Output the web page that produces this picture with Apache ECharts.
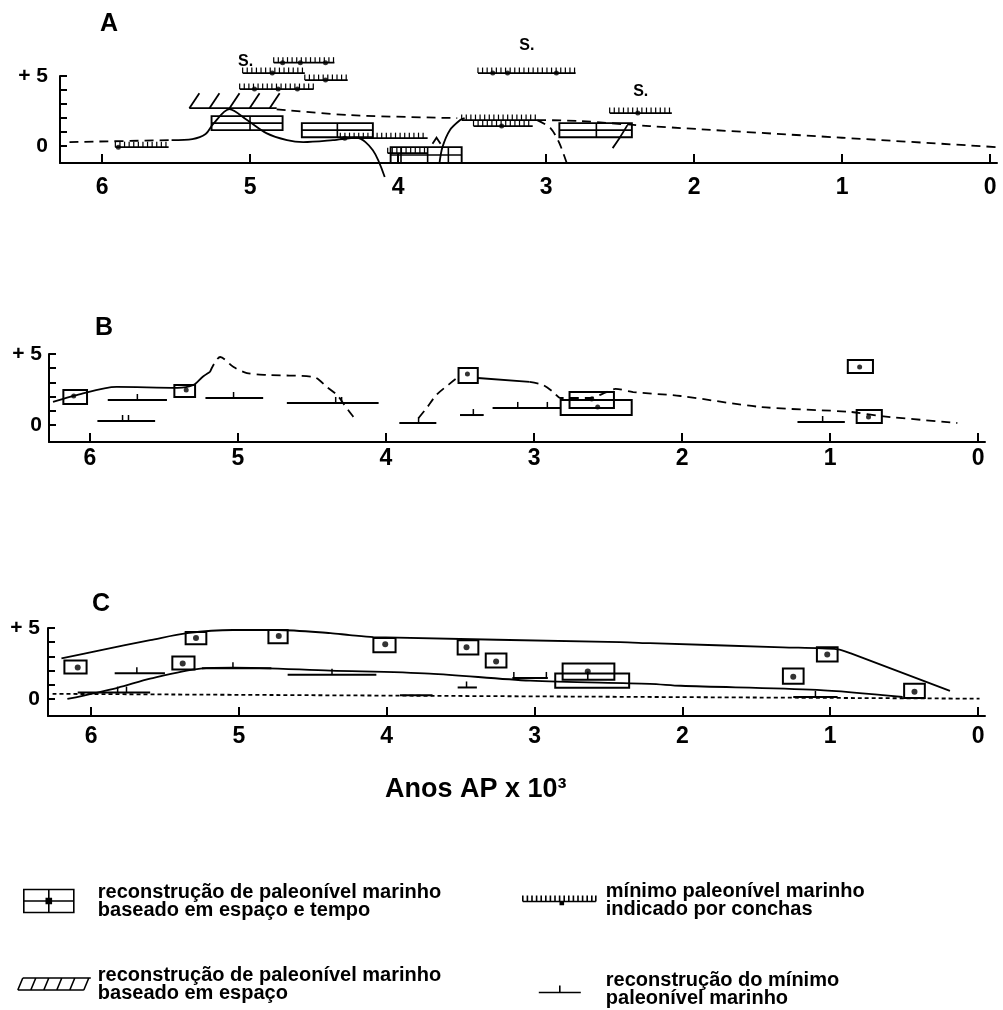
<!DOCTYPE html>
<html><head><meta charset="utf-8">
<script src="https://cdn.jsdelivr.net/npm/echarts@6/dist/echarts.min.js"></script>
<style>html,body{margin:0;padding:0;background:#fff}#c{width:1003px;height:1010px}</style>
</head><body><div id="c"></div><script>
const FONT = "'Liberation Sans', Arial, Helvetica, sans-serif";
const K = '#000';

// ---- axes / text ----
const xTicks = [0, 1, 2, 3, 4, 5, 6];
const yTicks = [0, 1, 2, 3, 4, 5];
const yLabels = [0, 5];
const panelNames = ['A', 'B', 'C'];
const xTitle = 'Anos AP x 10\u00b3';
const legendNames = [
  'reconstrução de paleonível marinho\nbaseado em espaço e tempo',
  'reconstrução de paleonível marinho\nbaseado em espaço',
  'mínimo paleonível marinho\nindicado por conchas',
  'reconstrução do mínimo\npaleonível marinho'
];

// ---- Panel A ----  [xStart, xEnd, yTop, yBottom]
const aBoxes = [[5.26,4.78,2.14,1.14],[4.65,4.17,1.64,0.64],[4.05,3.57,-0.07,-1.2],[2.91,2.42,1.64,0.64]];
const aBoxDividers = [[5.0,2.14,1.14],[4.41,1.64,0.64],[3.98,-0.07,-1.2],[3.80,-0.07,-1.2],[3.66,-0.07,-1.2],[2.66,1.64,0.64]];
const aHatch = [[5.41,4.82,2.71]];
const aShells = [[5.91,5.55,-0.07],[4.84,4.43,5.95],[5.05,4.63,5.21],[4.63,4.34,4.71],[5.07,4.57,4.07],
  [3.46,2.80,5.21],[3.57,3.06,1.86],[3.49,3.09,1.43],[4.39,3.80,0.57],[4.07,3.80,-0.5],[2.57,2.15,2.36]];
const aShellDots = [[5.89,-0.07],[4.78,5.95],[4.66,5.95],[4.49,5.95],[4.85,5.21],[4.49,4.71],[4.97,4.07],[4.81,4.07],
  [4.68,4.07],[3.36,5.21],[3.26,5.21],[2.93,5.21],[3.30,1.43],[4.36,0.57],[2.38,2.36]];
const aSMarks = [[5.03,6.0],[3.13,7.14],[2.36,3.86]];
const aArrow = [[3.74,0.6]];
const aLowDash = [[6.22,0.29],[5.53,0.43]];
const aSolid1 = [[5.53,0.43],[5.39,0.5],[5.30,0.86],[5.25,1.57],[5.14,2.64],[5.02,1.86],[4.89,0.93],[4.75,0.43],
  [4.64,0.29],[4.44,0.43],[4.28,0.6],[4.17,-0.29],[4.09,-2.2]];
const aSolid2 = [[3.72,-1.21],[3.70,-0.07],[3.65,1.14],[3.58,1.86],[3.55,2.0]];
const aSolid3 = [[2.55,-0.14],[2.50,0.64],[2.45,1.5]];
const aDash2 = [[4.82,2.62],[4.32,2.21],[3.60,2.0]];
const aDash3 = [[3.06,1.86],[2.77,1.79],[2.30,1.43],[1.0,0.6],[-0.05,-0.07]];
const aDash4 = [[3.06,1.86],[2.97,1.29],[2.91,0.21],[2.86,-1.21]];

// ---- Panel B ----
const bRects = [[6.18,6.02,2.46,1.48],[5.43,5.29,2.82,1.97],[3.51,3.38,4.01,2.96],[2.76,2.46,2.32,1.2],
  [2.82,2.34,1.76,0.7],[0.88,0.71,4.58,3.66],[0.82,0.65,1.06,0.14]];
const bDots = [[6.11,2.04],[5.35,2.46],[3.45,3.59],[2.61,1.83],[2.57,1.27],[0.80,4.08],[0.74,0.56]];
const bMarks = [[5.88,5.48,1.76],[5.95,5.56,0.28],[5.22,4.83,1.9],[4.67,4.05,1.55],[3.91,3.66,0.14],
  [3.50,3.34,0.7],[3.28,2.82,1.2],[1.22,0.90,0.21]];
const bMarkTicks = [[5.68,1.76],[5.78,0.28],[5.74,0.28],[5.03,1.9],[4.34,1.55],[4.30,1.55],[3.78,0.14],
  [3.41,0.7],[3.11,1.2],[2.91,1.2],[1.05,0.21]];
const bSolid1 = [[6.25,1.62],[6.09,2.11],[5.82,2.68],[5.41,2.61],[5.30,2.82],[5.24,3.38],[5.19,3.73]];
const bDash1 = [[5.19,3.73],[5.12,4.79],[5.03,4.08],[4.94,3.66],[4.80,3.52],[4.49,3.38],[4.40,2.68],
  [4.33,2.1],[4.28,1.4],[4.23,0.7],[4.21,0.45]];
const bDash2 = [[3.78,0.49],[3.72,1.27],[3.66,2.11],[3.58,2.82],[3.52,3.31],[3.50,3.38]];
const bSolid2 = [[3.38,3.31],[3.03,3.03]];
const bDash3 = [[3.03,3.03],[2.94,2.82],[2.87,2.32],[2.82,1.9],[2.62,1.9],[2.51,2.32],[2.45,2.54],[2.33,2.32],
  [2.01,2.04],[1.47,1.27],[0.86,0.92],[0.66,0.63],[0.14,0.14]];

// ---- Panel C ----
const cRects = [[6.18,6.03,2.71,1.79],[5.36,5.22,4.71,3.86],[5.45,5.30,3.0,2.07],[4.80,4.67,4.86,3.93],
  [4.09,3.94,4.29,3.29],[3.52,3.38,4.14,3.14],[3.33,3.19,3.21,2.21],[2.81,2.46,2.5,1.36],[2.86,2.36,1.79,0.79],
  [1.32,1.18,2.14,1.07],[1.09,0.95,3.64,2.64],[0.50,0.36,1.07,0.07]];
const cDots = [[6.09,2.21],[5.29,4.29],[5.38,2.5],[4.73,4.43],[4.01,3.86],[3.46,3.64],[3.26,2.64],[2.64,1.93],
  [1.25,1.57],[1.02,3.14],[0.43,0.5]];
const cStems = [[2.64,1.93,1.36]];
const cMarks = [[5.84,5.50,1.81],[5.25,4.78,2.17],[4.67,4.07,1.71],[6.09,5.60,0.45],[3.52,3.39,0.81],
  [3.91,3.69,0.26],[3.15,2.91,1.48],[1.25,0.95,0.14]];
const cMarkTicks = [[5.69,1.81],[5.04,2.17],[4.37,1.71],[5.82,0.45],[5.76,0.45],[3.46,0.81],[3.14,1.48],
  [2.92,1.48],[1.10,0.14]];
const cUpper = [[6.20,2.86],[5.94,3.43],[5.60,4.14],[5.35,4.64],[5.04,4.86],[4.74,4.86],[4.38,4.64],[4.25,4.5],
  [4.09,4.36],[2.42,4.0],[2.22,3.93],[1.32,3.64],[0.95,3.5],[0.86,3.21],[0.19,0.57]];
const cLower = [[6.16,0],[5.82,0.79],[5.60,1.43],[5.26,2.14],[5.04,2.21],[4.38,2.0],[3.71,1.79],[3.03,1.29],
  [2.22,1.07],[2.01,0.93],[1.09,0.64],[0.51,0.14]];
const cDotted = [[6.26,0.36],[-0.01,0.02]];

// ---- render helpers ----
function rectRender(withMid, lw) {
  return function (params, api) {
    const a = api.coord([api.value(0), api.value(2)]);
    const b = api.coord([api.value(1), api.value(3)]);
    const x = Math.min(a[0], b[0]), y = Math.min(a[1], b[1]);
    const w = Math.abs(b[0] - a[0]), h = Math.abs(b[1] - a[1]);
    const ch = [{ type: 'rect', shape: { x, y, width: w, height: h }, style: { fill: 'none', stroke: K, lineWidth: lw } }];
    if (withMid) ch.push({ type: 'line', shape: { x1: x, y1: y + h / 2, x2: x + w, y2: y + h / 2 }, style: { stroke: K, lineWidth: 1.6 } });
    return { type: 'group', children: ch };
  };
}
function vsegRender(params, api) {
  const a = api.coord([api.value(0), api.value(1)]), b = api.coord([api.value(0), api.value(2)]);
  return { type: 'line', shape: { x1: a[0], y1: a[1], x2: b[0], y2: b[1] }, style: { stroke: K, lineWidth: 1.6 } };
}
function combRender(params, api) {
  const a = api.coord([api.value(0), api.value(2)]), b = api.coord([api.value(1), api.value(2)]);
  const xl = Math.min(a[0], b[0]), xr = Math.max(a[0], b[0]), y = a[1];
  const ch = [{ type: 'line', shape: { x1: xl, y1: y, x2: xr, y2: y }, style: { stroke: K, lineWidth: 1.8 } }];
  for (let t = xl; t <= xr + 0.01; t += 4.6) {
    ch.push({ type: 'line', shape: { x1: t, y1: y, x2: t, y2: y - 5.5 }, style: { stroke: K, lineWidth: 1.2 } });
  }
  return { type: 'group', children: ch };
}
function markRender(params, api) {
  const a = api.coord([api.value(0), api.value(2)]), b = api.coord([api.value(1), api.value(2)]);
  return { type: 'line', shape: { x1: a[0], y1: a[1], x2: b[0], y2: b[1] }, style: { stroke: K, lineWidth: 2 } };
}
function tickRender(params, api) {
  const a = api.coord([api.value(0), api.value(1)]);
  return { type: 'line', shape: { x1: a[0], y1: a[1], x2: a[0], y2: a[1] - 6 }, style: { stroke: K, lineWidth: 1.5 } };
}
function hatchRender(params, api) {
  const a = api.coord([api.value(0), api.value(2)]), b = api.coord([api.value(1), api.value(2)]);
  const xl = Math.min(a[0], b[0]), xr = Math.max(a[0], b[0]), y = a[1];
  const ch = [{ type: 'line', shape: { x1: xl, y1: y, x2: xr, y2: y }, style: { stroke: K, lineWidth: 1.8 } }];
  const step = (xr - xl) / 4.35;
  for (let i = 0; i < 5; i++) {
    const t = xl + i * step;
    ch.push({ type: 'line', shape: { x1: t, y1: y, x2: t + 10, y2: y - 15 }, style: { stroke: K, lineWidth: 1.8 } });
  }
  return { type: 'group', children: ch };
}
function sRender(params, api) {
  const a = api.coord([api.value(0), api.value(1)]);
  return { type: 'text', x: a[0], y: a[1], style: { text: 'S.', font: 'bold 16px ' + FONT, fill: K,
    align: 'center', verticalAlign: 'middle', textAlign: 'center', textVerticalAlign: 'middle' } };
}
function arrowRender(params, api) {
  const a = api.coord([api.value(0), api.value(1)]);
  return { type: 'polyline', shape: { points: [[a[0] - 4, a[1] + 6], [a[0], a[1]], [a[0] + 4, a[1] + 6]] },
    style: { fill: 'none', stroke: K, lineWidth: 1.8 } };
}

const series = [];
function lineS(data, g, kind) {
  series.push({ type: 'line', xAxisIndex: g, yAxisIndex: g, data, smooth: 0.3, symbol: 'none', clip: false, silent: true,
    animation: false, lineStyle: { color: K, width: kind === 'dot' ? 1.8 : 1.8, type: kind === 'dash' ? [9, 6] : kind === 'dot' ? [4, 3] : 'solid' } });
}
function customS(data, g, render, name) {
  const s = { type: 'custom', xAxisIndex: g, yAxisIndex: g, data, renderItem: render, clip: false, silent: true, animation: false,
    itemStyle: { color: K } };
  if (name) s.name = name;
  series.push(s);
}
function dotsS(data, g, size) {
  series.push({ type: 'scatter', xAxisIndex: g, yAxisIndex: g, data, symbolSize: size, clip: false, silent: true,
    animation: false, itemStyle: { color: K } });
}

// Panel A
lineS(aLowDash, 0, 'dash'); lineS(aSolid1, 0, 'solid'); lineS(aSolid2, 0, 'solid'); lineS(aSolid3, 0, 'solid');
lineS(aDash2, 0, 'dash'); lineS(aDash3, 0, 'dash'); lineS(aDash4, 0, 'dash');
customS(aBoxes, 0, rectRender(true, 1.9), legendNames[0]);
customS(aBoxDividers, 0, vsegRender);
customS(aHatch, 0, hatchRender, legendNames[1]);
customS(aShells, 0, combRender, legendNames[2]);
dotsS(aShellDots, 0, 5);
customS(aSMarks, 0, sRender);
customS(aArrow, 0, arrowRender);
// Panel B
lineS(bSolid1, 1, 'solid'); lineS(bDash1, 1, 'dash'); lineS(bDash2, 1, 'dash'); lineS(bSolid2, 1, 'solid'); lineS(bDash3, 1, 'dash');
customS(bRects, 1, rectRender(false, 2), legendNames[0]);
dotsS(bDots, 1, 5);
customS(bMarks, 1, markRender, legendNames[3]);
customS(bMarkTicks, 1, tickRender);
// Panel C
lineS(cUpper, 2, 'solid'); lineS(cLower, 2, 'solid'); lineS(cDotted, 2, 'dot');
customS(cRects, 2, rectRender(false, 2), legendNames[0]);
dotsS(cDots, 2, 6);
customS(cStems, 2, vsegRender);
customS(cMarks, 2, markRender, legendNames[3]);
customS(cMarkTicks, 2, tickRender);

// ---- axes ----
const grids = [
  { left: 60, top: 76, width: 937, height: 87 },
  { left: 49, top: 354, width: 936, height: 88 },
  { left: 48, top: 628, width: 937, height: 88 }
];
const xMax = [6.284, 6.277, 6.291];
const xMargin = [13, 5, 9];
const yMargin = [12, 7, 8];
const xAxes = grids.map((g, i) => ({
  type: 'value', gridIndex: i, min: -0.047, max: xMax[i], inverse: true, position: 'bottom',
  axisLine: { show: true, onZero: false, lineStyle: { color: K, width: 2 } },
  axisTick: { show: true, inside: true, length: 9, customValues: xTicks, lineStyle: { color: K, width: 2 } },
  axisLabel: { customValues: xTicks, color: K, fontSize: 23, fontWeight: 'bold', fontFamily: FONT, margin: xMargin[i] },
  splitLine: { show: false }
}));
const yAxes = grids.map((g, i) => ({
  type: 'value', gridIndex: i, min: -1.2, max: 5, position: 'left',
  axisLine: { show: true, onZero: false, lineStyle: { color: K, width: 2 } },
  axisTick: { show: true, inside: true, length: 7, customValues: yTicks, lineStyle: { color: K, width: 2 } },
  axisLabel: { customValues: yLabels, formatter: v => (v === 5 ? '+ 5' : String(v)), color: K, fontSize: 21,
    fontWeight: 'bold', fontFamily: FONT, margin: yMargin[i] },
  splitLine: { show: false }
}));

const titlePos = [[100, 12], [95, 316], [92, 592]];
const titles = panelNames.map((n, i) => ({ text: n, left: titlePos[i][0], top: titlePos[i][1], padding: 0,
  textStyle: { fontSize: 25, fontWeight: 'bold', color: K, fontFamily: FONT } }));
titles.push({ text: xTitle, left: 385, top: 776, padding: 0, textStyle: { fontSize: 27, fontWeight: 'bold', color: K, fontFamily: FONT } });

// ---- legend ----
const legendIcons = [
  'path://M0,0H50V23H0Z M0,11.5H50 M25,0V23 M22.5,9H27.5V14H22.5Z M23.8,10.3H26.2V12.7H23.8Z',
  'path://M5,0H73 M0,12H66 M0,12L5,0 M13,12L18,0 M26,12L31,0 M39,12L44,0 M52,12L57,0 M66,12L71,0',
  'path://M0,7H73 M0,7V1 M4.6,7V1 M9.2,7V1 M13.8,7V1 M18.4,7V1 M23,7V1 M27.6,7V1 M32.2,7V1 M36.8,7V1 M41.4,7V1 M46,7V1 M50.6,7V1 M55.2,7V1 M59.8,7V1 M64.4,7V1 M69,7V1 M73,7V1 M37.5,7H40.5V10H37.5Z M38.5,8H39.5V9H38.5Z',
  'path://M0,7H42 M21,0V7'
];
const legendLayout = [
  { left: 23, top: 882, w: 50, h: 23, pad: 19 },
  { left: 17, top: 965, w: 73, h: 12, pad: 2 },
  { left: 522, top: 881, w: 73, h: 9, pad: 5 },
  { left: 538, top: 970, w: 42, h: 7, pad: 20 }
];
const legends = legendNames.map((n, i) => ({
  data: [{ name: n, icon: legendIcons[i] }], left: legendLayout[i].left, top: legendLayout[i].top, padding: 0,
  itemWidth: legendLayout[i].w, itemHeight: legendLayout[i].h, selectedMode: false, orient: 'horizontal',
  itemStyle: { color: 'rgba(0,0,0,0)', borderColor: K, borderWidth: 1.6 },
  textStyle: { fontSize: 20, fontWeight: 'bold', color: K, fontFamily: FONT, lineHeight: 18, padding: [0, 0, 0, legendLayout[i].pad] }
}));

const chart = echarts.init(document.getElementById('c'), null, { renderer: 'canvas' });
chart.setOption({
  backgroundColor: '#fff', animation: false,
  title: titles, legend: legends,
  grid: grids, xAxis: xAxes, yAxis: yAxes, series
});
</script></body></html>
